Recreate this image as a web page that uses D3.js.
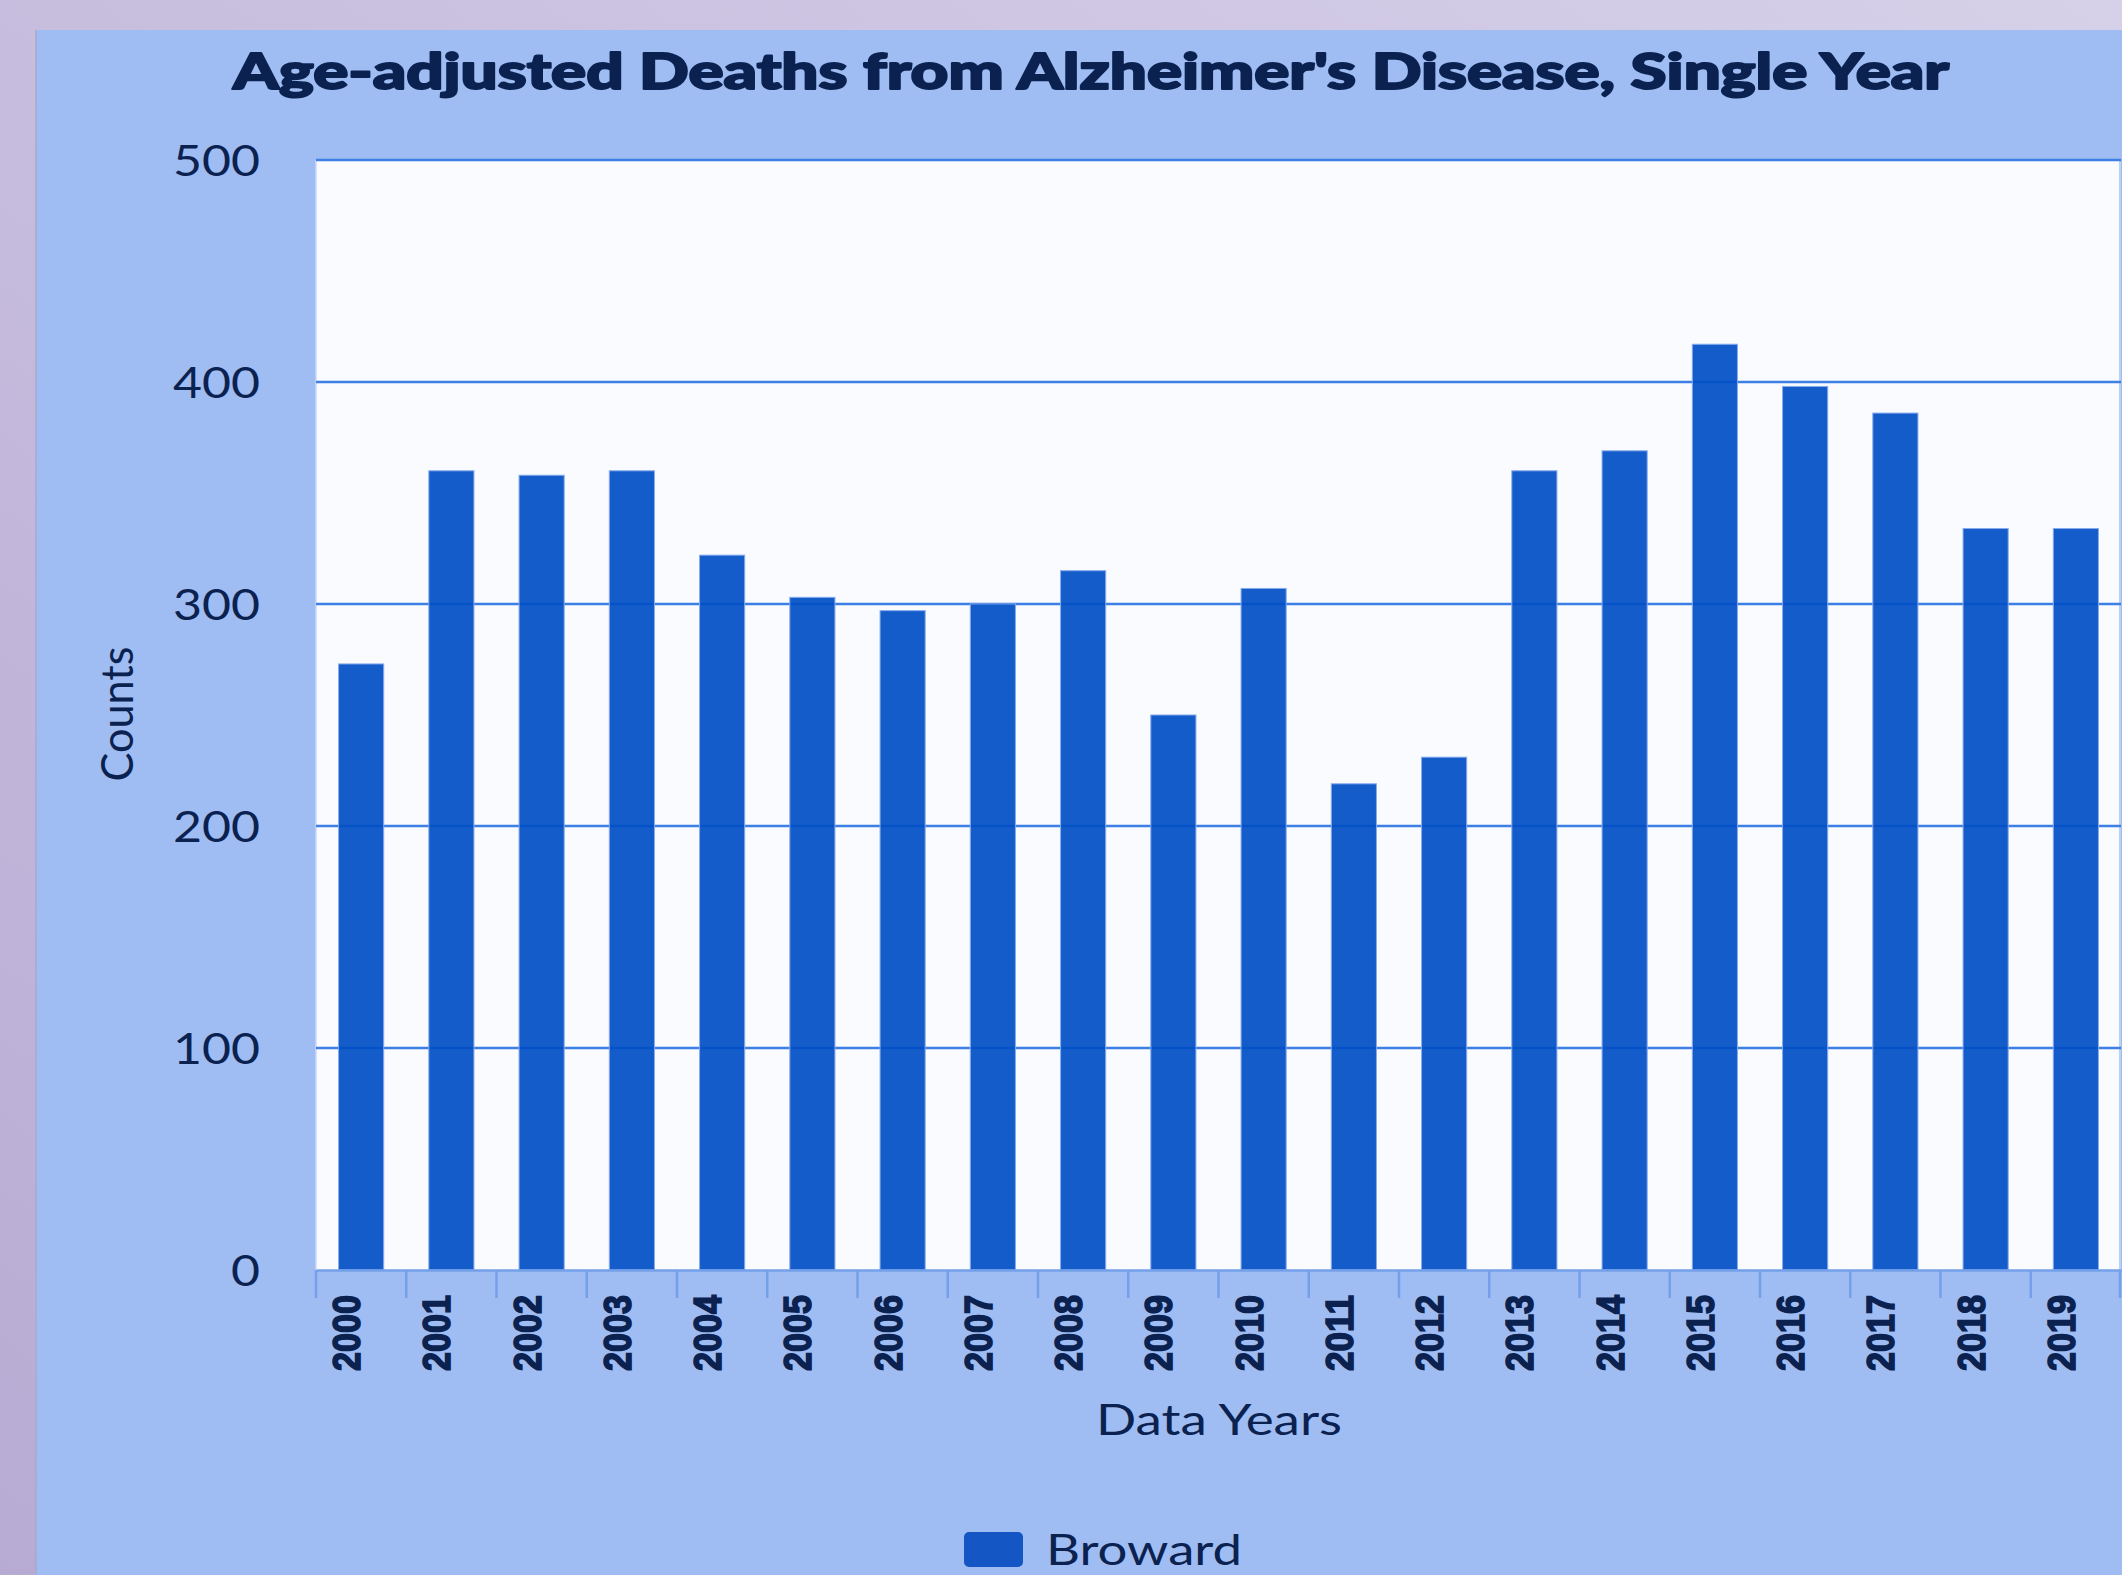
<!DOCTYPE html>
<html>
<head>
<meta charset="utf-8">
<script src="https://cdn.jsdelivr.net/npm/d3@7"></script>
<style>
  html, body { margin: 0; padding: 0; background: #cfc7e4; }
  svg { display: block; }
</style>
</head>
<body>
<svg id="chart" width="2122" height="1575"></svg>
<script>
const years = ["2000","2001","2002","2003","2004","2005","2006","2007","2008","2009",
               "2010","2011","2012","2013","2014","2015","2016","2017","2018","2019"];
const broward = [273, 360, 358, 360, 322, 303, 297, 300, 315, 250,
                 307, 219, 231, 360, 369, 417, 398, 386, 334, 334];
const yTicks = [0, 100, 200, 300, 400, 500];
const seriesName = "Broward";
const titleText = "Age-adjusted Deaths from Alzheimer's Disease, Single Year";
const xTitle = "Data Years";
const yTitle = "Counts";

const svg = d3.select("#chart");
const W = 2122, H = 1575;
const textColor = "#0b2251";

// background
const defs = svg.append("defs");
const grad = defs.append("linearGradient").attr("id", "bg")
  .attr("x1", "100%").attr("y1", "0%").attr("x2", "0%").attr("y2", "100%");
grad.append("stop").attr("offset", "0%").attr("stop-color", "#d6d0e9");
grad.append("stop").attr("offset", "100%").attr("stop-color", "#b8abd3");
svg.append("rect").attr("width", W).attr("height", H).attr("fill", "url(#bg)");

// panel
svg.append("rect").attr("x", 36).attr("y", 30).attr("width", W - 36).attr("height", H - 30)
  .attr("fill", "#9fbdf2");
svg.append("line").attr("x1", 36).attr("x2", 36).attr("y1", 30).attr("y2", H)
  .attr("stroke", "#a9a9d2").attr("stroke-width", 1.5);

const plot = { left: 316, right: 2121, top: 160, bottom: 1270 };

const x = d3.scaleBand().domain(years).range([plot.left, plot.right]).paddingInner(0.5).paddingOuter(0.25);
const xb = d3.scaleBand().domain(years).range([plot.left, plot.right]);
const y = d3.scaleLinear().domain([0, 500]).range([plot.bottom, plot.top]);

// plot area
svg.append("rect").attr("x", plot.left).attr("y", plot.top)
  .attr("width", plot.right - plot.left).attr("height", plot.bottom - plot.top)
  .attr("fill", "#f9fbfe");
svg.append("line").attr("x1", plot.left).attr("x2", plot.left).attr("y1", plot.top).attr("y2", plot.bottom)
  .attr("stroke", "#c9daf7").attr("stroke-width", 1.5);
svg.append("line").attr("x1", plot.right - 1).attr("x2", plot.right - 1).attr("y1", plot.top).attr("y2", plot.bottom)
  .attr("stroke", "#bcd0f4").attr("stroke-width", 2);

// grid lines
svg.append("g").selectAll("line").data(yTicks.filter(d => d > 0)).join("line")
  .attr("x1", plot.left).attr("x2", plot.right)
  .attr("y1", d => y(d)).attr("y2", d => y(d))
  .attr("stroke", "#3d7fe4").attr("stroke-width", 2.5);

// bars
svg.append("g").selectAll("rect").data(years).join("rect")
  .attr("x", d => x(d))
  .attr("width", x.bandwidth())
  .attr("y", (d, i) => y(broward[i]))
  .attr("height", (d, i) => y(0) - y(broward[i]))
  .attr("fill", "rgb(0,78,198)").attr("fill-opacity", 0.92)
  .attr("stroke", "#86aaee").attr("stroke-width", 1);

// x axis
const xAxisG = svg.append("g").attr("transform", `translate(0,${plot.bottom})`)
  .call(d3.axisBottom(xb).tickSize(0).tickFormat(""));
xAxisG.select(".domain").attr("stroke", "#74a0ea").attr("stroke-width", 2.5);
const bounds = years.map(d => xb(d)).concat([plot.right - 1]);
xAxisG.append("g").selectAll("line").data(bounds).join("line")
  .attr("x1", d => d).attr("x2", d => d).attr("y1", 0).attr("y2", 28)
  .attr("stroke", "#74a0ea").attr("stroke-width", 2.5);

svg.append("g").selectAll("text").data(years).join("text")
  .attr("transform", d => `translate(${xb(d) + xb.bandwidth() / 2 - 1},${plot.bottom + 25}) rotate(-90)`)
  .attr("text-anchor", "end")
  .attr("font-family", "'Liberation Sans', Arial, sans-serif")
  .attr("font-weight", 700)
  .attr("font-size", 38)
  .attr("textLength", 76).attr("lengthAdjust", "spacingAndGlyphs")
  .attr("fill", textColor)
  .attr("stroke", textColor).attr("stroke-width", 1.6)
  .text(d => d);

// y axis labels
const yAxisG = svg.append("g").attr("transform", `translate(${plot.left},0)`)
  .call(d3.axisLeft(y).tickValues(yTicks).tickSize(0).tickPadding(56));
yAxisG.select(".domain").remove();
yAxisG.selectAll("text")
  .attr("font-family", "Lato, 'Open Sans', sans-serif")
  .attr("font-size", 42)
  .attr("fill", textColor)
  .attr("dy", "0.36em")
  .attr("textLength", d => String(d).length * 29)
  .attr("lengthAdjust", "spacingAndGlyphs");

// title
svg.append("text")
  .attr("x", 1091).attr("y", 89)
  .attr("text-anchor", "middle")
  .attr("font-family", "Lato, sans-serif").attr("font-weight", 900)
  .attr("font-size", 50)
  .attr("textLength", 1716).attr("lengthAdjust", "spacingAndGlyphs")
  .attr("fill", textColor)
  .attr("stroke", textColor).attr("stroke-width", 2).attr("stroke-linejoin", "round")
  .text(titleText);

// axis titles
svg.append("text")
  .attr("x", 1219).attr("y", 1435)
  .attr("text-anchor", "middle")
  .attr("font-family", "Lato, sans-serif").attr("font-size", 42)
  .attr("textLength", 246).attr("lengthAdjust", "spacingAndGlyphs")
  .attr("fill", textColor)
  .text(xTitle);

svg.append("text")
  .attr("transform", "translate(133,714) rotate(-90)")
  .attr("text-anchor", "middle")
  .attr("font-family", "Lato, sans-serif").attr("font-size", 44)
  .attr("textLength", 135).attr("lengthAdjust", "spacingAndGlyphs")
  .attr("fill", textColor)
  .text(yTitle);

// legend
const lg = svg.append("g");
lg.append("rect").attr("x", 964).attr("y", 1532).attr("width", 59).attr("height", 35).attr("rx", 5)
  .attr("fill", "#1356c4");
lg.append("text").attr("x", 1046).attr("y", 1565)
  .attr("font-family", "Lato, sans-serif").attr("font-size", 43)
  .attr("textLength", 196).attr("lengthAdjust", "spacingAndGlyphs")
  .attr("fill", textColor)
  .text(seriesName);
</script>
</body>
</html>
